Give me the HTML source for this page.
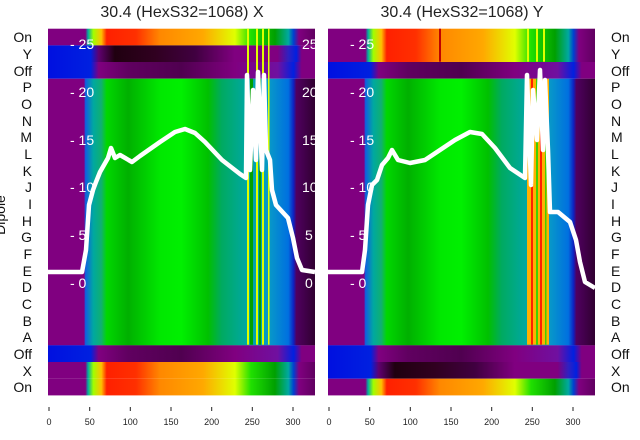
<!DOCTYPE html>
<html><head><meta charset="utf-8"><style>
body{margin:0;background:#fff;width:640px;height:440px;overflow:hidden}
svg{display:block;font-family:"Liberation Sans","DejaVu Sans",sans-serif}
</style></head><body>
<svg width="640" height="440" viewBox="0 0 640 440">
<defs>
<linearGradient id="main" x1="0" x2="1">
<stop offset="0" stop-color="#800080"/><stop offset="0.135" stop-color="#800080"/>
<stop offset="0.14" stop-color="#1060e0"/><stop offset="0.17" stop-color="#00a8a0"/>
<stop offset="0.2" stop-color="#10b070"/><stop offset="0.22" stop-color="#00d800"/>
<stop offset="0.3" stop-color="#00b000"/><stop offset="0.42" stop-color="#00e800"/>
<stop offset="0.5" stop-color="#00f000"/><stop offset="0.6" stop-color="#00c000"/>
<stop offset="0.65" stop-color="#00aa60"/><stop offset="0.74" stop-color="#00a8a0"/>
<stop offset="0.83" stop-color="#0898c8"/><stop offset="0.9" stop-color="#0070e0"/>
<stop offset="0.92" stop-color="#1020c0"/><stop offset="0.93" stop-color="#500060"/>
<stop offset="1" stop-color="#300030"/></linearGradient>
<linearGradient id="on" x1="0" x2="1">
<stop offset="0" stop-color="#800080"/><stop offset="0.14" stop-color="#800080"/>
<stop offset="0.15" stop-color="#00b0a0"/><stop offset="0.17" stop-color="#a0ff00"/>
<stop offset="0.2" stop-color="#ffc000"/><stop offset="0.22" stop-color="#ff2000"/>
<stop offset="0.33" stop-color="#ff3000"/><stop offset="0.42" stop-color="#ff8800"/>
<stop offset="0.58" stop-color="#ffa800"/><stop offset="0.7" stop-color="#e0ff00"/>
<stop offset="0.76" stop-color="#20e000"/><stop offset="0.85" stop-color="#00a000"/>
<stop offset="0.9" stop-color="#00a8a0"/><stop offset="0.92" stop-color="#0040d0"/>
<stop offset="0.94" stop-color="#800080"/><stop offset="1" stop-color="#600060"/></linearGradient>
<linearGradient id="dark" x1="0" x2="1">
<stop offset="0" stop-color="#0010e0"/><stop offset="0.16" stop-color="#0020e0"/>
<stop offset="0.19" stop-color="#600070"/><stop offset="0.25" stop-color="#200010"/>
<stop offset="0.4" stop-color="#300020"/><stop offset="0.55" stop-color="#400040"/>
<stop offset="0.7" stop-color="#800080"/><stop offset="0.86" stop-color="#800080"/>
<stop offset="0.9" stop-color="#3020c0"/><stop offset="0.93" stop-color="#0020e0"/>
<stop offset="0.95" stop-color="#800080"/><stop offset="1" stop-color="#800080"/></linearGradient>
<linearGradient id="off" x1="0" x2="1">
<stop offset="0" stop-color="#0010e0"/><stop offset="0.16" stop-color="#0020e0"/>
<stop offset="0.19" stop-color="#800080"/><stop offset="0.3" stop-color="#600060"/>
<stop offset="0.5" stop-color="#500050"/><stop offset="0.7" stop-color="#800080"/>
<stop offset="0.86" stop-color="#7010a0"/><stop offset="0.92" stop-color="#0020e0"/>
<stop offset="0.95" stop-color="#800080"/><stop offset="1" stop-color="#800080"/></linearGradient>
</defs>
<g font-size="16" fill="#222">
<text x="182" y="17" text-anchor="middle">30.4 (HexS32=1068) X</text>
<text x="462" y="17" text-anchor="middle">30.4 (HexS32=1068) Y</text>
</g>
<g>
<rect x="48" y="28.7" width="267" height="16.7" fill="url(#on)"/>
<rect x="48" y="45.4" width="267" height="16.7" fill="url(#dark)"/>
<rect x="48" y="62" width="267" height="16.7" fill="url(#off)"/>
<rect x="48" y="78.7" width="267" height="266.7" fill="url(#main)"/>
<rect x="48" y="345.3" width="267" height="16.7" fill="url(#off)"/>
<rect x="48" y="362" width="267" height="16.7" fill="url(#on)"/>
<rect x="48" y="378.7" width="267" height="16.7" fill="url(#on)"/>
<g fill="#e0ff00"><rect x="247" y="28.7" width="2" height="316"/><rect x="256" y="28.7" width="2" height="316"/><rect x="262" y="28.7" width="2" height="316"/><rect x="268" y="28.7" width="1.5" height="316"/></g>
<g fill="#00a000"><rect x="250" y="78.7" width="3" height="266"/><rect x="259" y="78.7" width="2" height="266"/></g>
</g>
<g>
<rect x="328" y="28.7" width="267" height="33.4" fill="url(#on)"/>
<rect x="328" y="62" width="267" height="16.7" fill="url(#off)"/>
<rect x="328" y="78.7" width="267" height="266.7" fill="url(#main)"/>
<rect x="328" y="345.3" width="267" height="16.7" fill="url(#off)"/>
<rect x="328" y="362" width="267" height="16.7" fill="url(#dark)"/>
<rect x="328" y="378.7" width="267" height="16.7" fill="url(#on)"/>
<rect x="439" y="28.7" width="2" height="33" fill="#c00000"/>
<g fill="#ffb000"><rect x="527" y="78.7" width="22" height="266"/></g>
<g fill="#ff2000"><rect x="531" y="78.7" width="2" height="266"/><rect x="540" y="78.7" width="2" height="266"/></g>
<g fill="#40d000"><rect x="536" y="78.7" width="2" height="266"/><rect x="545" y="78.7" width="1.5" height="266"/></g>
<g fill="#e0ff00"><rect x="527" y="28.7" width="2" height="33"/><rect x="536" y="28.7" width="2" height="33"/><rect x="543" y="28.7" width="2" height="33"/></g>
</g>
<g fill="#fff" font-size="14">
<text x="70" y="49">- 25</text><text x="70" y="97">- 20</text><text x="70" y="145">- 15</text><text x="70" y="192">- 10</text><text x="70" y="240">- 5</text><text x="70" y="288">- 0</text>
<text x="302" y="49">25</text><text x="302" y="97">20</text><text x="302" y="145">15</text><text x="302" y="192">10</text><text x="305" y="240">5</text><text x="305" y="288">0</text>
<text x="350" y="49">- 25</text><text x="350" y="97">- 20</text><text x="350" y="145">- 15</text><text x="350" y="192">- 10</text><text x="350" y="240">- 5</text><text x="350" y="288">- 0</text>
</g>
<g fill="none" stroke="#fff" stroke-width="4.5" stroke-linejoin="round">
<polyline points="48,272 82,272 86,250 89,205 93,190 96,182 100,172 104,165 108,158 111,148 115,158 120,155 132,162 140,156 160,142 175,132 185,129 195,133 205,142 222,160 240,174 246,178 247,75 250,170 253,90 256,160 258,72 262,170 264,75 266,150 270,160 272,190 276,205 288,218 293,238 297,258 302,270 315,272"/>
<polyline points="328,272 362,272 365,250 368,205 372,185 377,180 382,165 388,158 392,150 398,160 410,163 425,160 440,150 455,140 470,132 482,134 495,148 510,168 525,178 527,75 531,185 533,90 537,140 540,70 543,150 545,80 548,150 550,212 558,212 570,222 576,240 580,262 585,282 595,288"/>
</g>
<g font-size="14" fill="#111" text-anchor="end">
<text x="32" y="42">On</text><text x="32" y="59">Y</text><text x="32" y="76">Off</text><text x="32" y="92">P</text><text x="32" y="109">O</text><text x="32" y="126">N</text><text x="32" y="142">M</text><text x="32" y="159">L</text><text x="32" y="176">K</text><text x="32" y="192">J</text><text x="32" y="209">I</text><text x="32" y="226">H</text><text x="32" y="242">G</text><text x="32" y="259">F</text><text x="32" y="276">E</text><text x="32" y="292">D</text><text x="32" y="309">C</text><text x="32" y="326">B</text><text x="32" y="342">A</text><text x="32" y="359">Off</text><text x="32" y="376">X</text><text x="32" y="392">On</text>
</g>
<g font-size="14" fill="#111">
<text x="611" y="42">On</text><text x="611" y="59">Y</text><text x="611" y="76">Off</text><text x="611" y="92">P</text><text x="611" y="109">O</text><text x="611" y="126">N</text><text x="611" y="142">M</text><text x="611" y="159">L</text><text x="611" y="176">K</text><text x="611" y="192">J</text><text x="611" y="209">I</text><text x="611" y="226">H</text><text x="611" y="242">G</text><text x="611" y="259">F</text><text x="611" y="276">E</text><text x="611" y="292">D</text><text x="611" y="309">C</text><text x="611" y="326">B</text><text x="611" y="342">A</text><text x="611" y="359">Off</text><text x="611" y="376">X</text><text x="611" y="392">On</text>
</g>
<text transform="translate(5,215) rotate(-90)" font-size="14" fill="#111" text-anchor="middle">Dipole</text>
<g stroke="#222" stroke-width="1">
<line x1="49" y1="407" x2="49" y2="411"/><line x1="89.7" y1="407" x2="89.7" y2="411"/><line x1="130.3" y1="407" x2="130.3" y2="411"/><line x1="171" y1="407" x2="171" y2="411"/><line x1="211.7" y1="407" x2="211.7" y2="411"/><line x1="252.3" y1="407" x2="252.3" y2="411"/><line x1="293" y1="407" x2="293" y2="411"/>
<line x1="329" y1="407" x2="329" y2="411"/><line x1="369.7" y1="407" x2="369.7" y2="411"/><line x1="410.3" y1="407" x2="410.3" y2="411"/><line x1="451" y1="407" x2="451" y2="411"/><line x1="491.7" y1="407" x2="491.7" y2="411"/><line x1="532.3" y1="407" x2="532.3" y2="411"/><line x1="573" y1="407" x2="573" y2="411"/>
</g>
<g font-size="9" fill="#222" text-anchor="middle">
<text x="49" y="425">0</text><text x="89.7" y="425">50</text><text x="130.3" y="425">100</text><text x="171" y="425">150</text><text x="211.7" y="425">200</text><text x="252.3" y="425">250</text><text x="293" y="425">300</text>
<text x="329" y="425">0</text><text x="369.7" y="425">50</text><text x="410.3" y="425">100</text><text x="451" y="425">150</text><text x="491.7" y="425">200</text><text x="532.3" y="425">250</text><text x="573" y="425">300</text>
</g>
</svg>
</body></html>
